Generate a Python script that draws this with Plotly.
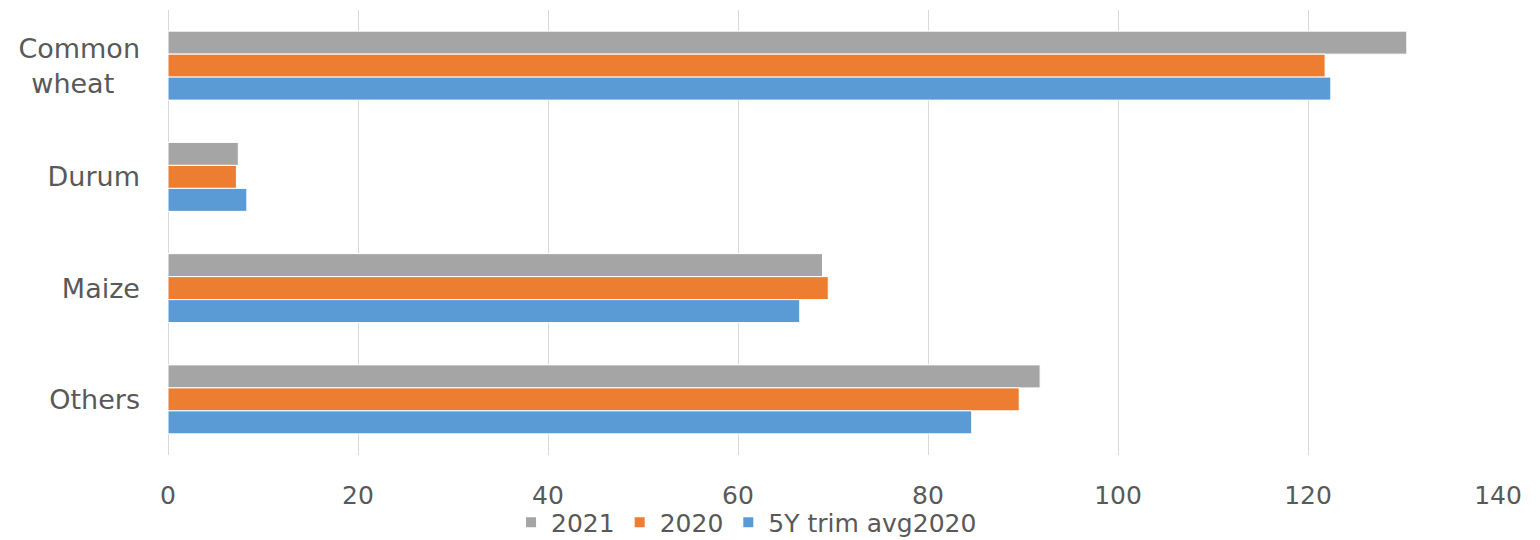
import plotly.graph_objects as go

categories = ["Common<br>wheat\u00a0\u00a0\u00a0", "Durum", "Maize", "Others"]
series_names = ["2021", "2020", "5Y trim avg2020"]
v2021 = [130.4, 7.4, 68.9, 91.8]
v2020 = [121.8, 7.2, 69.5, 89.6]
v5y = [122.4, 8.3, 66.5, 84.6]
colors = ["#A5A5A5", "#ED7D31", "#5B9BD5"]
x_ticks = [0, 20, 40, 60, 80, 100, 120, 140]

fig = go.Figure()
for name, vals, col in zip(series_names, [v2021, v2020, v5y], colors):
    fig.add_trace(go.Bar(
        y=categories, x=vals, name=name, orientation="h",
        marker=dict(color=col, line=dict(color="white", width=1)),
    ))

font_family = "DejaVu Sans, sans-serif"
fig.update_layout(
    width=1540, height=540,
    margin=dict(l=168, r=42, t=10, b=85, autoexpand=False),
    paper_bgcolor="white", plot_bgcolor="white",
    barmode="group", bargap=0.38, bargroupgap=0,
    font=dict(family=font_family, size=25, color="#595959"),
    showlegend=True,
    legend=dict(orientation="h", x=0.435, xanchor="center", y=-0.1, yanchor="top",
                font=dict(size=25, color="#595959"), traceorder="normal",
                bgcolor="rgba(0,0,0,0)",
                itemwidth=30, itemsizing="constant", tracegroupgap=0),
    xaxis=dict(range=[0, 140], tickvals=x_ticks, showgrid=True, gridcolor="#D9D9D9",
               gridwidth=1.3, zeroline=True, zerolinecolor="#D9D9D9", zerolinewidth=1.3,
               showline=False, ticks="", ticklabelstandoff=23, automargin=False),
    yaxis=dict(autorange="reversed", showgrid=False, showline=False, ticks="",
               ticklabelstandoff=27, automargin=False, tickfont=dict(size=27)),
)

fig.write_html("out.html", config={"displayModeBar": False},
               post_script="document.body.style.margin='0';document.body.style.overflow='hidden';")
